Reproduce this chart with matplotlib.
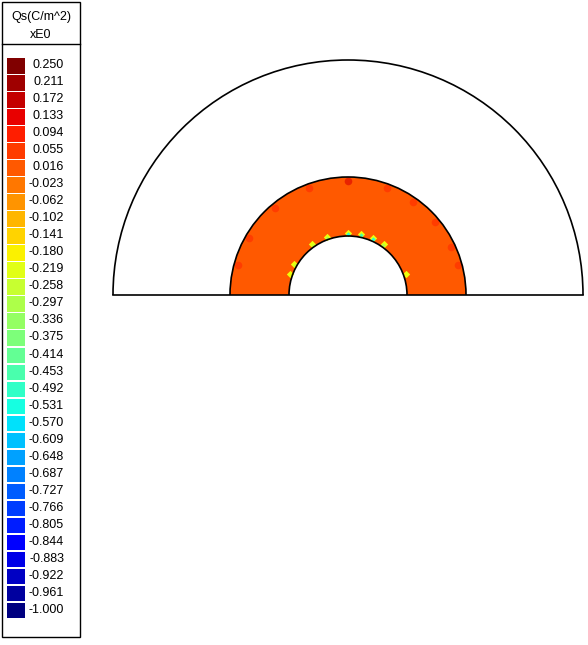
import numpy as np
import matplotlib
matplotlib.use("Agg")
import matplotlib.pyplot as plt
from matplotlib.patches import Wedge, Rectangle, Arc

levels = [0.250,0.211,0.172,0.133,0.094,0.055,0.016,-0.023,-0.062,-0.102,-0.141,-0.180,
          -0.219,-0.258,-0.297,-0.336,-0.375,-0.414,-0.453,-0.492,-0.531,-0.570,-0.609,
          -0.648,-0.687,-0.727,-0.766,-0.805,-0.844,-0.883,-0.922,-0.961,-1.000]
title_lines = ["Qs(C/m^2)", "xE0"]
ring_value = 0.02
spot_angles = [90, 70, 55, 40, 25, 110, 130, 150, 165, 15]
spot_values = [0.15, 0.08, 0.08, 0.08, 0.08, 0.08, 0.08, 0.08, 0.08, 0.08]
inner_angles = [90, 78, 66, 55, 110, 125, 150, 20, 160]
inner_values = [-0.5, -0.45, -0.5, -0.3, -0.3, -0.25, -0.25, -0.2, -0.2]

cmap = plt.get_cmap("jet")
norm = plt.Normalize(-1.0, 0.25)

fig = plt.figure(figsize=(5.88, 6.45), dpi=100)
ax = fig.add_axes([0, 0, 1, 1])
ax.set_xlim(0, 588); ax.set_ylim(645, 0); ax.axis("off")
ax.set_aspect("auto")
fnt = dict(fontsize=9, family="Liberation Sans")

ax.add_patch(Rectangle((2, 2), 78, 635, fill=False, lw=1, ec="black"))
ax.plot([2, 80], [44, 44], color="black", lw=1)
ax.text(41, 17, title_lines[0], ha="center", va="center", **fnt)
ax.text(41, 35, title_lines[1], ha="center", va="center", **fnt)
for i, v in enumerate(levels):
    y = 58 + i * 17.03
    ax.add_patch(Rectangle((7, y), 18, 15.5, color=cmap(norm(v)), lw=0))
    ax.text(64, y + 7, f"{v:.3f}", ha="right", va="center", **fnt)

cx, cy = 348, 295
R, r1, r0 = 235, 118, 59
ax.add_patch(Wedge((cx, cy), r1, 180, 360, width=r1 - r0, color=cmap(norm(ring_value)), lw=0))
for a, v in zip(spot_angles, spot_values):
    t = np.radians(a)
    ax.scatter(cx + (r1 - 4) * np.cos(t), cy - (r1 - 4) * np.sin(t), s=30, color=cmap(norm(v)), marker="o", lw=0, alpha=0.6)
for a, v in zip(inner_angles, inner_values):
    t = np.radians(a)
    ax.scatter(cx + (r0 + 3) * np.cos(t), cy - (r0 + 3) * np.sin(t), s=14, color=cmap(norm(-0.2)), marker="D", lw=0)
    ax.scatter(cx + (r0 + 2) * np.cos(t), cy - (r0 + 2) * np.sin(t), s=5, color=cmap(norm(v)), marker="D", lw=0)
for rr in (R, r1, r0):
    ax.add_patch(Arc((cx, cy), 2 * rr, 2 * rr, theta1=180, theta2=360, color="black", lw=1.2))
ax.plot([cx - R, cx + R], [cy, cy], color="black", lw=1.2)

fig.savefig("out.png", dpi=100)
